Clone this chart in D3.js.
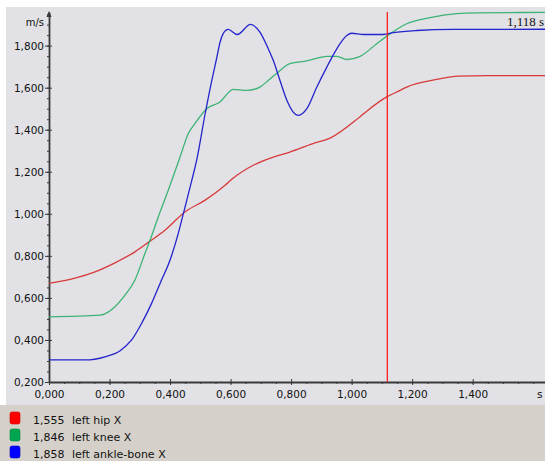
<!DOCTYPE html>
<html>
<head>
<meta charset="utf-8">
<script src="https://cdn.jsdelivr.net/npm/d3@7"></script>
<style>
  html, body { margin: 0; padding: 0; background: #fff; }
  svg { display: block; font-family: "DejaVu Sans", sans-serif; }
</style>
</head>
<body>
<svg width="545" height="461"></svg>
<script>
// readings, time in s, speed in m/s
const hipT = [0, 0.086, 0.152, 0.218, 0.284, 0.334, 0.383, 0.449, 0.516, 0.582, 0.608, 0.675, 0.741, 0.796, 0.872, 0.929, 1.028, 1.050, 1.116, 1.160, 1.182, 1.281, 1.352, 1.450, 1.639];
const hipV = [0.669, 0.694, 0.724, 0.767, 0.819, 0.870, 0.922, 1.009, 1.065, 1.136, 1.169, 1.231, 1.270, 1.294, 1.334, 1.360, 1.462, 1.488, 1.556, 1.587, 1.603, 1.639, 1.655, 1.657, 1.657];

const kneeT = [0, 0.169, 0.218, 0.251, 0.284, 0.317, 0.334, 0.361, 0.394, 0.433, 0.460, 0.482, 0.521, 0.565, 0.609, 0.653, 0.697, 0.725, 0.752, 0.796, 0.852, 0.918, 0.951, 0.984, 1.028, 1.083, 1.121, 1.182, 1.259, 1.347, 1.413, 1.639];
const kneeV = [0.510, 0.518, 0.558, 0.613, 0.685, 0.811, 0.875, 0.985, 1.112, 1.270, 1.381, 1.429, 1.500, 1.532, 1.592, 1.587, 1.603, 1.635, 1.667, 1.714, 1.727, 1.749, 1.749, 1.734, 1.749, 1.809, 1.850, 1.904, 1.933, 1.952, 1.956, 1.958];

const ankleT = [0, 0.119, 0.185, 0.235, 0.273, 0.306, 0.339, 0.367, 0.400, 0.427, 0.444, 0.472, 0.488, 0.516, 0.538, 0.554, 0.565, 0.576, 0.592, 0.622, 0.666, 0.697, 0.722, 0.741, 0.763, 0.786, 0.807, 0.824, 0.852, 0.885, 0.918, 0.951, 0.984, 1.000, 1.039, 1.105, 1.138, 1.215, 1.336, 1.639];
const ankleV = [0.305, 0.305, 0.320, 0.349, 0.400, 0.479, 0.574, 0.669, 0.780, 0.906, 1.001, 1.160, 1.255, 1.476, 1.635, 1.740, 1.815, 1.858, 1.877, 1.853, 1.901, 1.864, 1.793, 1.730, 1.635, 1.540, 1.484, 1.468, 1.500, 1.603, 1.698, 1.785, 1.848, 1.859, 1.853, 1.853, 1.862, 1.872, 1.877, 1.878];

const xTicks = [0, 0.2, 0.4, 0.6, 0.8, 1.0, 1.2, 1.4];
const yTicks = [0.2, 0.4, 0.6, 0.8, 1.0, 1.2, 1.4, 1.6, 1.8];
const seriesNames = ['left hip X', 'left knee X', 'left ankle-bone X'];
const cursorValues = [1.555, 1.846, 1.858];
const cursorTime = 1.118;

const lineColors = ['#d83a3a', '#3cb474', '#2424cc'];
const boxColors = ['#ff0000', '#00a550', '#0000ff'];

const svg = d3.select('svg');
const width = +svg.attr('width');

const x = d3.scaleLinear().domain([0, 1.639]).range([49, 545]);
const y = d3.scaleLinear().domain([0.2, 1.96]).range([382, 12]);

const fmt = v => d3.format('.3f')(v).replace('.', ',');

// backgrounds
svg.append('rect').attr('x', 0).attr('y', 0).attr('width', width).attr('height', 461).attr('fill', '#fff');
svg.append('rect').attr('x', 6).attr('y', 7).attr('width', width - 6).attr('height', 398).attr('fill', '#e1e1e6');
svg.append('rect').attr('x', 0).attr('y', 405).attr('width', width).attr('height', 56).attr('fill', '#d5d1ca');

// axes
const yMinor = d3.range(0.2, 1.951, 0.05).map(v => +v.toFixed(2));
const xMinor = d3.range(0, 1.63, 0.05).map(v => +v.toFixed(2));

const yAx = svg.append('g').attr('transform', `translate(${x(0)},0)`)
  .call(d3.axisLeft(y).tickValues(yTicks).tickSize(4).tickSizeOuter(0).tickPadding(1).tickFormat(fmt));
yAx.selectAll('.tick line').attr('x1', 3);
svg.append('g').attr('transform', `translate(${x(0)},0)`)
  .call(d3.axisLeft(y).tickValues(yMinor).tickSize(2).tickFormat(''))
  .select('.domain').remove();

const xAx = svg.append('g').attr('transform', `translate(0,${y(0.2)})`)
  .call(d3.axisBottom(x).tickValues(xTicks).tickSize(3).tickSizeOuter(0).tickFormat(fmt));
xAx.selectAll('.tick line').attr('y1', -3);
xAx.selectAll('.tick text').attr('y', 16).attr('dy', 0);
svg.append('g').attr('transform', `translate(0,${y(0.2)})`)
  .call(d3.axisBottom(x).tickValues(xMinor).tickSize(2).tickFormat(''))
  .select('.domain').remove();

svg.selectAll('.domain').attr('stroke', '#3a3a3a').attr('stroke-width', 1.8);
svg.selectAll('.tick line').attr('stroke', '#3a3a3a');
svg.selectAll('.tick text').attr('font-family', '"DejaVu Sans", sans-serif').attr('font-size', 10.5).attr('fill', '#111');

// arrow on y axis
svg.append('path')
  .attr('d', `M${x(0) - 2.5},${y(1.96) + 5} L${x(0)},${y(1.96) - 1} L${x(0) + 2.5},${y(1.96) + 5} Z`)
  .attr('fill', '#3a3a3a');

svg.append('text').attr('x', 44).attr('y', 26).attr('text-anchor', 'end')
  .attr('font-size', 10).attr('fill', '#111').text('m/s');
svg.append('text').attr('x', 537).attr('y', 398)
  .attr('font-size', 10.5).attr('fill', '#111').text('s');

// series
const line = d3.line().x(d => x(d[0])).y(d => y(d[1])).curve(d3.curveMonotoneX);
const series = [[hipT, hipV], [kneeT, kneeV], [ankleT, ankleV]];
series.forEach((s, i) => {
  svg.append('path')
    .datum(d3.zip(s[0], s[1]))
    .attr('d', line)
    .attr('fill', 'none')
    .attr('stroke', lineColors[i])
    .attr('stroke-width', 1.3);
});

// cursor
svg.append('line')
  .attr('x1', x(cursorTime)).attr('x2', x(cursorTime))
  .attr('y1', 12).attr('y2', y(0.2))
  .attr('stroke', '#ff2020').attr('stroke-width', 1.3);
svg.append('text').attr('x', 544).attr('y', 26).attr('text-anchor', 'end')
  .attr('font-family', '"Liberation Serif", serif').attr('font-size', 13).attr('fill', '#111')
  .text(fmt(cursorTime) + ' s');

// legend
const leg = svg.append('g');
seriesNames.forEach((name, i) => {
  const yy = 412 + i * 17;
  leg.append('rect').attr('x', 10).attr('y', yy).attr('width', 10).attr('height', 12).attr('rx', 2)
    .attr('fill', boxColors[i]).attr('stroke', d3.color(boxColors[i]).darker(0.6)).attr('stroke-width', 0.6);
  leg.append('text').attr('x', 33).attr('y', yy + 11.5).attr('font-size', 11).attr('fill', '#111')
    .text(fmt(cursorValues[i]));
  leg.append('text').attr('x', 72).attr('y', yy + 11.5).attr('font-size', 11).attr('fill', '#111')
    .text(name);
});
</script>
</body>
</html>
